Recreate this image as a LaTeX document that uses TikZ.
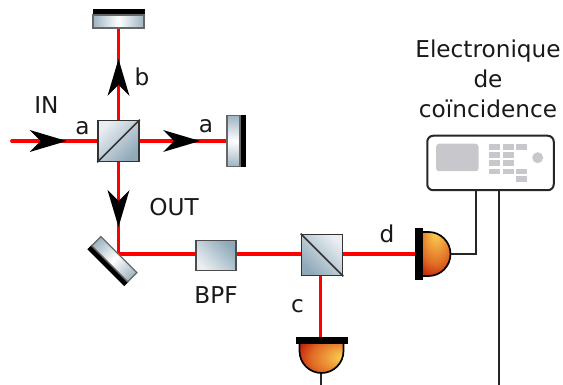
\documentclass[tikz,border=0pt]{standalone}
\usepackage{fontspec}
\setmainfont{DejaVu Sans}
\pgfdeclareradialshading{domeshade}{\pgfpoint{26bp}{2bp}}{
  rgb(0bp)=(1,0.85,0.33);
  rgb(10bp)=(0.96,0.70,0.27);
  rgb(30bp)=(0.88,0.42,0.14);
  rgb(46bp)=(0.74,0.10,0.03);
  rgb(58bp)=(0.68,0.0,0.0);
  rgb(100bp)=(0.66,0.0,0.0)}
\definecolor{cubeL}{HTML}{E9EEF1}
\definecolor{cubeD}{HTML}{8FA9B9}
\definecolor{mirE}{HTML}{9DB3C1}
\definecolor{edgeC}{HTML}{333333}
\definecolor{panelC}{HTML}{C8C8CC}
\tikzset{
  beam/.style={red,line width=3.8pt},
  wire/.style={draw=black!85,line width=2pt},
  lbl/.style={font=\fontsize{23.2}{30}\selectfont,inner sep=0pt,anchor=base,align=center,text=black!90},
  cube/.style={draw=edgeC,line width=1.7pt,minimum size=41pt,inner sep=0pt,top color=cubeL,bottom color=cubeD},
  filterbox/.style={draw=black!70,line width=1.7pt,minimum width=40pt,minimum height=30pt,inner sep=0pt,top color=cubeD,bottom color=cubeL,shading angle=-45},
  mirH/.style={draw=black!60,line width=1.3pt,minimum width=51pt,minimum height=13pt,inner sep=0pt,left color=mirE,right color=mirE,middle color=white},
  mirV/.style={draw=black!60,line width=1.3pt,minimum width=13pt,minimum height=51pt,inner sep=0pt,top color=mirE,bottom color=mirE,middle color=white},
  bar/.style={fill=black,inner sep=0pt},
  dome/.style={draw=black,line width=1.7pt,shading=domeshade},
  head/.style={fill=black},
  btn/.style={fill=panelC,inner sep=0pt,minimum width=10.8pt,minimum height=5.8pt}
}
\newcommand{\headat}[3]{\fill[head,shift={(#1,#2)},rotate=#3] (0,0) -- (-37,11) -- (-26,0) -- (-37,-11) -- cycle;}
\begin{document}
\begin{tikzpicture}[x=1pt,y=-1pt]
\useasboundingbox (0,0) rectangle (563,385);
% named positions
\coordinate (start) at (12,141);
\node[cube,shading angle=45] (bs1) at (118.5,141) {};
\node[cube,shading angle=-45] (bs2) at (322,255) {};
\node[filterbox] (bpf) at (216,255.5) {};
\node[bar,minimum width=52pt,minimum height=6.5pt] (mtbar) at (118.5,12.2) {};
\node[mirH] (mtop) at (118.5,21.5) {};
\node[bar,minimum width=6.5pt,minimum height=52pt] (mrbar) at (243,141) {};
\node[mirV] (mright) at (233.5,141) {};
\coordinate (hit) at (118.5,254.4);
% beams
\draw[beam,line cap=round] (start) -- (bs1.west);
\draw[beam] (bs1.north) -- (mtop.south);
\draw[beam] (bs1.east) -- (mright.west);
\draw[beam,line join=miter] (bs1.south) -- (hit) -- (hit -| bpf.west);
\draw[beam] (bpf.east |- hit) -- (bs2.west |- hit);
\coordinate (c2) at (320.5,338);
\coordinate (d2) at (416,254.4);
\draw[beam] (c2 |- bs2.south) -- (c2);
\draw[beam] (bs2.east |- d2) -- (d2);
% redraw on top
\node[cube,shading angle=45] (bs1b) at (bs1) {};
\draw[edgeC,line width=1.5pt] (bs1b.south west) -- (bs1b.north east);
\node[cube,shading angle=-45] (bs2b) at (bs2) {};
\draw[edgeC,line width=1.5pt] (bs2b.north west) -- (bs2b.south east);
% folding mirror
\begin{scope}[transform canvas={shift={(108.1,265.4)},rotate=-45}]
\node[bar,minimum width=52pt,minimum height=6.5pt] (mdbar) at (0,0) {};
\end{scope}
\begin{scope}[transform canvas={shift={(114.3,259.2)},rotate=-45}]
\node[mirH] (mdiag) at (0,0) {};
\end{scope}
% arrowheads
\headat{66.7}{141}{0}
\headat{200}{141}{0}
\headat{118.5}{59}{90}
\headat{118.5}{227}{-90}
% detector c
\coordinate (detcb) at (320.5,373);
\coordinate (wcb) at (320.5,385.7);
\coordinate (wr) at (498.5,385.7);
\coordinate (wl) at (498.5,190);
\coordinate (wd) at (475.5,190);
\coordinate (detdb) at (451,254.4);
\draw[wire] (detcb) -- (wcb) -- (wr) -- (wl);
\draw[wire] (detdb) -| (wd);
\path[dome] (299.5,344) -- (299.5,351) arc[start angle=180,end angle=0,radius=22] -- (343.5,344);
\node[bar,minimum width=52pt,minimum height=7pt] (detcbar) at (322,340.5) {};
% detector d
\path[dome,shading angle=90] (423,232) -- (428.5,232) arc[start angle=-90,end angle=90,radius=22] -- (423,276);
\node[bar,minimum width=8pt,minimum height=52pt] (detdbar) at (419.3,254) {};
% device
\node[draw=black!85,line width=2pt,rounded corners=6pt,fill=white,minimum width=126.5pt,minimum height=54.5pt,inner sep=0pt] (dev) at (490.5,163) {};
\node[fill=panelC,rounded corners=3pt,minimum width=42.5pt,minimum height=27.5pt,inner sep=0pt] (screen) at (457.3,157.5) {};
\node[btn] (b11) at (494.7,147.2) {};
\node[btn] (b12) at (508.3,147.2) {};
\node[btn] (b13) at (521.7,147.2) {};
\node[btn] (b21) at (494.7,155.2) {};
\node[btn] (b22) at (508.3,155.2) {};
\node[btn] (b31) at (494.7,163.3) {};
\node[btn] (b32) at (508.3,163.3) {};
\node[btn] (b41) at (494.7,171.5) {};
\node[btn] (b42) at (508.3,171.5) {};
\node[btn] (b43) at (521.7,171.5) {};
\node[btn] (b53) at (521.7,179.3) {};
\node[circle,fill=panelC,minimum size=11pt,inner sep=0pt] (knob) at (537.7,157.7) {};
% labels
\node[lbl] (tIN) at (46.5,114) {IN};
\node[lbl] (ta1) at (82.5,135) {a};
\node[lbl] (ta2) at (206,133) {a};
\node[lbl] (tb) at (142,86) {b};
\node[lbl] (tOUT) at (174,216) {OUT};
\node[lbl] (tBPF) at (216,303.5) {BPF};
\node[lbl] (tc) at (297.5,312.7) {c};
\node[lbl] (td) at (387,243) {d};
\node[lbl,anchor=center] (tE) at (488,79) {Electronique\\de\\coïncidence};
\end{tikzpicture}
\end{document}
